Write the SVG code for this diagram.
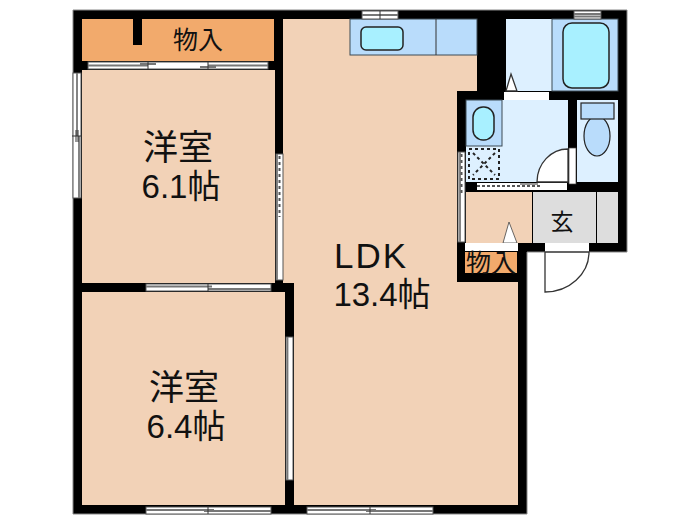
<svg xmlns="http://www.w3.org/2000/svg" width="700" height="525" viewBox="0 0 700 525">
<style>
.room{fill:#f2d2b7}
.closet{fill:#f2aa6c}
.pale{fill:#ddf0ff}
.blue{fill:#b9dcfb;stroke:#3c4a55;stroke-width:1}
.aqua{fill:#a8f0ff;stroke:#222;stroke-width:1.5}
.grey{fill:#dddddd}
.win{fill:#fff;stroke:#555;stroke-width:1}
.mid{stroke:#777;stroke-width:1.8;fill:none}
.tick{stroke:#333;stroke-width:1;fill:none}
.door{fill:#fff;stroke:#333;stroke-width:1.3}
.t{font-family:"Liberation Sans","Noto Sans CJK JP",sans-serif;fill:#111;text-anchor:middle}
.dash{fill:none;stroke:#222;stroke-width:2;stroke-dasharray:3 3}
</style>
<rect width="700" height="525" fill="#fff"/>
<g id="walls">
<path d="M73 10H627V252H527V514H73Z" fill="#000" stroke="#888" stroke-width="1"/>
</g>
<g id="closet-top">
<rect class="closet" x="82" y="19" width="192" height="42"/>
<rect x="133" y="19" width="9" height="26" fill="#000"/>
<text class="t" x="198" y="49" font-size="25">物入</text>
</g>
<g id="room-upper">
<rect class="room" x="82" y="70" width="193" height="213"/>
<text class="t" x="178" y="160" font-size="35">洋室</text>
<text class="t" x="181" y="198" font-size="33">6.1帖</text>
</g>
<g id="room-lower">
<rect class="room" x="82" y="292" width="203" height="213"/>
<text class="t" x="184" y="400" font-size="35">洋室</text>
<text class="t" x="186" y="438" font-size="33">6.4帖</text>
</g>
<g id="ldk">
<path class="room" d="M283 19H477V91H457V282H518V505H294V283H283Z"/>
<text class="t" x="371" y="268" font-size="35" letter-spacing="2">LDK</text>
<text class="t" x="382" y="306" font-size="33">13.4帖</text>
</g>
<g id="kitchen">
<rect class="blue" x="350" y="19" width="127" height="36"/>
<line class="tick" x1="436" y1="19" x2="436" y2="55"/>
<rect class="aqua" x="361" y="27" width="42" height="23" rx="5"/>
</g>
<g id="dressing">
<rect class="pale" x="506" y="19" width="46" height="72"/>
<path class="door" d="M511 74L517 91H506Z"/>
<rect x="504" y="92" width="45" height="8" fill="#fff"/>
</g>
<g id="bath">
<rect class="blue" x="552" y="19" width="66" height="72"/>
<rect class="aqua" x="563" y="23" width="46" height="65" rx="9"/>
</g>
<g id="wash">
<rect class="pale" x="466" y="100" width="102" height="82"/>
<rect class="blue" x="466" y="100" width="36" height="46"/>
<rect class="aqua" x="473" y="107" width="21" height="33" rx="10"/>
<rect class="dash" x="469" y="149" width="30" height="30"/>
<path class="dash" d="M473 153L495 175M495 153L473 175"/>
<path class="door" d="M537 182A31 33 0 0 1 568 149V182Z"/>
<rect x="569" y="148" width="7" height="36" fill="#fff" stroke="#444" stroke-width="0.7"/>
<rect x="477" y="183" width="90" height="7" fill="#fff"/>
<line x1="477" y1="186" x2="540" y2="186" stroke="#555" stroke-width="2" stroke-dasharray="3 2"/>
<rect x="520" y="183" width="18" height="2" fill="#999"/>
</g>
<g id="toilet">
<rect class="pale" x="577" y="100" width="41" height="82"/>
<ellipse cx="597" cy="136" rx="13" ry="20" fill="#b9dcfb" stroke="#222" stroke-width="1.2"/>
<rect x="581" y="103" width="33" height="16" fill="#b9dcfb" stroke="#222" stroke-width="1.2"/>
</g>
<g id="entry">
<rect class="room" x="466" y="192" width="66" height="51"/>
<rect class="grey" x="533" y="192" width="63" height="51"/>
<rect class="grey" x="597" y="192" width="21" height="51"/>
<path d="M509 222L517 243H503Z" fill="#fff" stroke="#444" stroke-width="0.8"/>
<rect x="465" y="243" width="53" height="8" fill="#fff"/>
<text class="t" x="562" y="230" font-size="23">玄</text>
</g>
<g id="closet-entry">
<rect class="closet" x="465" y="252" width="52" height="21"/>
<text class="t" x="491" y="272" font-size="25">物入</text>
</g>
<g id="entry-door">
<rect x="545" y="243" width="44" height="9" fill="#fff"/>
<path class="door" d="M545 252V292A44 40 0 0 0 589 252Z"/>
</g>
<g id="windows">
<rect class="win" x="88" y="62" width="180" height="7"/>
<path class="mid" d="M88 65.500H148M208 65.500H268M140 64H156M200 67H216"/>
<path class="tick" d="M148 62V69M208 62V69"/>
<rect class="win" x="73" y="73" width="8" height="125"/>
<path class="mid" d="M77 73V136M79 136V198"/>
<path class="tick" d="M72 136H82M76 130V142M78 130V142"/>
<rect class="win" x="276" y="154" width="7" height="126"/>
<path class="mid" d="M277 154V280"/>
<line x1="279.500" y1="156" x2="279.500" y2="217" stroke="#555" stroke-width="2" stroke-dasharray="3 3"/>
<rect class="win" x="146" y="284" width="125" height="7"/>
<path class="mid" d="M146 286.500H212M208 289H271"/>
<path class="tick" d="M208 284V291"/>
<rect class="win" x="286" y="337" width="7" height="143"/>
<path class="mid" d="M287.500 337V480"/>
<rect class="win" x="146" y="507" width="125" height="7"/>
<path class="mid" d="M146 510H214M204 511H271"/>
<path class="tick" d="M208 506V514"/>
<rect class="win" x="307" y="507" width="126" height="7"/>
<path class="mid" d="M307 510H376M366 511H433"/>
<path class="tick" d="M370 506V514"/>
<rect class="win" x="362" y="11" width="36" height="8"/>
<path class="mid" d="M362 15H398"/>
<path class="tick" d="M380 11V19"/>
<rect class="win" x="574" y="11" width="27" height="8"/>
<path class="mid" d="M574 14H601M574 16.500H601"/>
<rect class="win" x="458" y="152" width="7" height="90"/>
<path class="mid" d="M460 152V242"/>
<line x1="461.500" y1="154" x2="461.500" y2="196" stroke="#555" stroke-width="2" stroke-dasharray="3 3"/>
</g>
</svg>
